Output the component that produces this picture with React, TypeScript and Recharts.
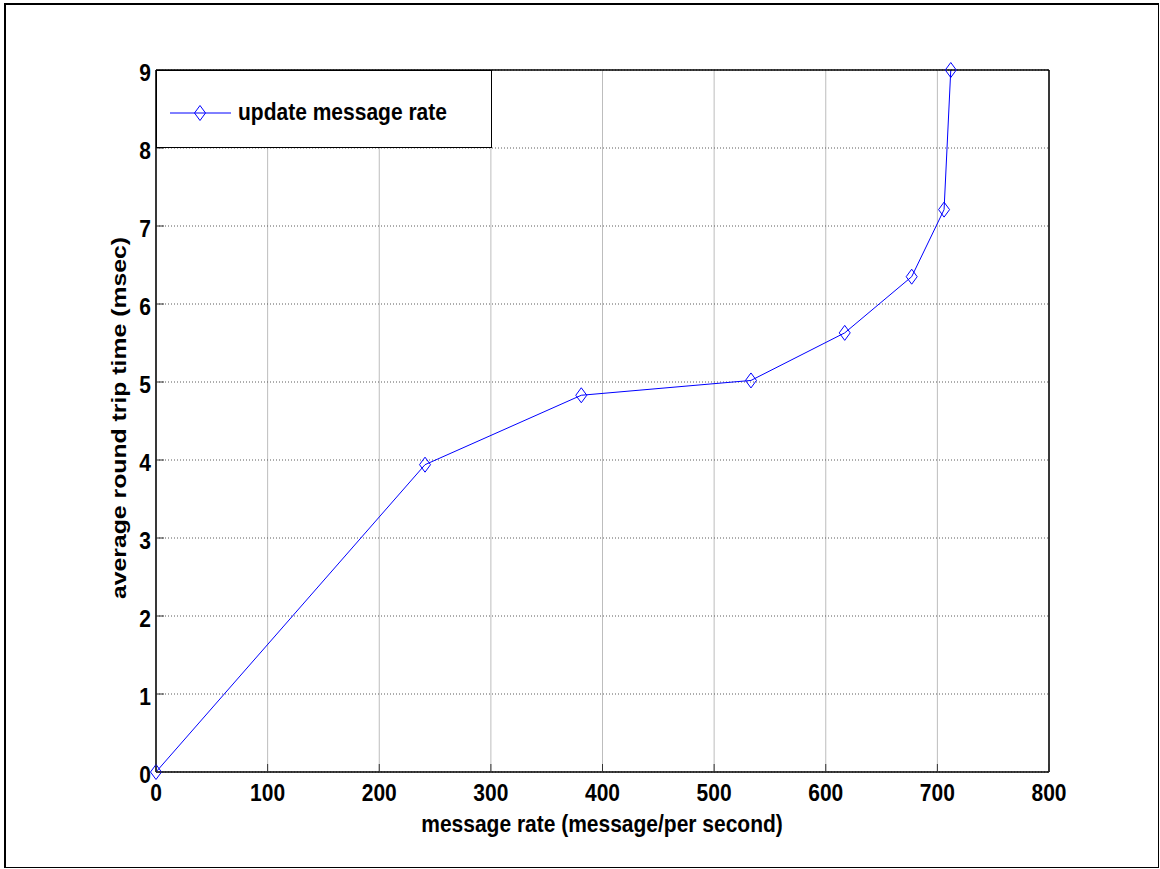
import {
  LineChart,
  Line,
  XAxis,
  YAxis,
  CartesianGrid,
  Legend,
  Customized,
} from 'recharts';

const messageRate = [0, 241, 381, 533, 617, 677, 706, 712];
const roundTrip = [0, 3.94, 4.83, 5.02, 5.63, 6.35, 7.21, 9];
const xTicks = [0, 100, 200, 300, 400, 500, 600, 700, 800];
const yTicks = [0, 1, 2, 3, 4, 5, 6, 7, 8, 9];
const seriesName = 'update message rate';
const xTitle = 'message rate (message/per second)';
const yTitle = 'average round trip time (msec)';

const data = messageRate.map((rate, i) => ({ rate, rtt: roundTrip[i] }));

const FONT = '"Liberation Sans", Arial, Helvetica, sans-serif';
const BLUE = '#0000ff';
// the original picture is a bit taller than wide, text looks stretched
const STRETCH = 1.14;

const Diamond = ({ cx, cy }: any) => {
  if (cx == null || cy == null) return null;
  return (
    <path
      d={`M${cx},${cy - 7.5} L${cx + 5.5},${cy} L${cx},${cy + 7.5} L${cx - 5.5},${cy} Z`}
      fill="none"
      stroke={BLUE}
      strokeWidth={1}
    />
  );
};

const Txt = ({ x, y, anchor, children }: any) => (
  <text
    transform={`translate(${x},${y}) scale(1,${STRETCH})`}
    textAnchor={anchor}
    fontFamily={FONT}
    fontWeight="bold"
    fontSize={21}
    fill="#000"
  >
    {children}
  </text>
);

const BottomTick = ({ x, y, payload }: any) => (
  <g>
    <line x1={x} x2={x} y1={y} y2={y - 8} stroke="#333" strokeWidth={1} />
    <Txt x={x} y={y + 29} anchor="middle">{payload.value}</Txt>
  </g>
);

const TopTick = ({ x, y }: any) => (
  <line x1={x} x2={x} y1={y} y2={y + 8} stroke="#333" strokeWidth={1} />
);

const LeftTick = ({ x, y, payload }: any) => (
  <g>
    <line x1={x} x2={x + 8} y1={y} y2={y} stroke="#333" strokeWidth={1} />
    <Txt x={x - 5} y={y + 11} anchor="end">{payload.value}</Txt>
  </g>
);

const RightTick = ({ x, y }: any) => (
  <line x1={x} x2={x - 8} y1={y} y2={y} stroke="#333" strokeWidth={1} />
);

const renderLegend = () => (
  <div
    style={{
      width: 336,
      height: 78,
      boxSizing: 'border-box',
      border: '1px solid #000',
      background: '#fff',
      position: 'relative',
    }}
  >
    <svg width={80} height={78} style={{ position: 'absolute', left: 0, top: 0 }}>
      <line x1={13} x2={74} y1={42} y2={42} stroke={BLUE} strokeWidth={1} />
      <Diamond cx={43} cy={42} />
    </svg>
    <span
      style={{
        position: 'absolute',
        left: 81,
        top: 28,
        fontFamily: FONT,
        fontWeight: 'bold',
        fontSize: 21,
        lineHeight: '26px',
        color: '#000',
        whiteSpace: 'nowrap',
        transform: `scale(1, ${STRETCH})`,
        transformOrigin: 'left center',
      }}
    >
      {seriesName}
    </span>
  </div>
);

const Titles = () => (
  <g>
    <Txt x={602} y={832} anchor="middle">{xTitle}</Txt>
    <text
      x={118}
      y={418}
      transform="rotate(-90 118 418)"
      textAnchor="middle"
      dominantBaseline="central"
      fontFamily={FONT}
      fontWeight="bold"
      fontSize={21}
      textLength={362}
      lengthAdjust="spacingAndGlyphs"
      fill="#000"
    >
      {yTitle}
    </text>
  </g>
);

export default function App() {
  return (
    <div style={{ position: 'absolute', left: 0, top: 0, width: 1160, height: 869, background: '#fff' }}>
      <div
        style={{
          position: 'absolute',
          left: 4,
          top: 3,
          width: 1155,
          height: 865,
          boxSizing: 'border-box',
          borderTop: '2px solid #000',
          borderLeft: '2px solid #000',
          borderRight: '1px solid #000',
          borderBottom: '1px solid #000',
          pointerEvents: 'none',
        }}
      />
      <LineChart
        width={1160}
        height={869}
        data={data}
        margin={{ top: 40, right: 51, left: 96, bottom: 67 }}
      >
        <CartesianGrid horizontal={false} stroke="#bdbdbd" strokeWidth={1} />
        <CartesianGrid vertical={false} stroke="#5a5a5a" strokeWidth={1} strokeDasharray="1 2" />
        <XAxis
          type="number"
          dataKey="rate"
          domain={[0, 800]}
          ticks={xTicks}
          interval={0}
          height={30}
          tickSize={0}
          tickMargin={0}
          tickLine={false}
          axisLine={{ stroke: '#000', strokeWidth: 1.5 }}
          tick={<BottomTick />}
        />
        <XAxis
          xAxisId="top"
          orientation="top"
          type="number"
          domain={[0, 800]}
          ticks={xTicks}
          interval={0}
          height={30}
          tickSize={0}
          tickMargin={0}
          tickLine={false}
          axisLine={{ stroke: '#000', strokeWidth: 1.5 }}
          tick={<TopTick />}
        />
        <YAxis
          type="number"
          domain={[0, 9]}
          ticks={yTicks}
          interval={0}
          width={60}
          tickSize={0}
          tickMargin={0}
          tickLine={false}
          axisLine={{ stroke: '#000', strokeWidth: 1.5 }}
          tick={<LeftTick />}
        />
        <YAxis
          yAxisId="right"
          orientation="right"
          type="number"
          domain={[0, 9]}
          ticks={yTicks}
          interval={0}
          width={60}
          tickSize={0}
          tickMargin={0}
          tickLine={false}
          axisLine={{ stroke: '#000', strokeWidth: 1.5 }}
          tick={<RightTick />}
        />
        <Legend
          layout="horizontal"
          verticalAlign="middle"
          align="center"
          content={renderLegend}
          wrapperStyle={{ left: 156, top: 70, width: 336, height: 78 }}
        />
        <Line
          type="linear"
          dataKey="rtt"
          name={seriesName}
          stroke={BLUE}
          strokeWidth={1}
          dot={<Diamond />}
          activeDot={false}
          isAnimationActive={false}
        />
        <Customized component={Titles} />
      </LineChart>
    </div>
  );
}
